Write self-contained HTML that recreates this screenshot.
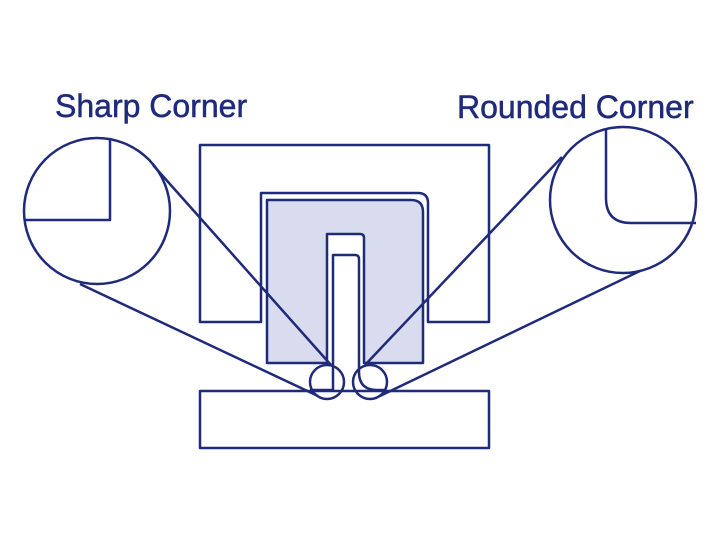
<!DOCTYPE html>
<html><head><meta charset="utf-8"><style>
html,body{margin:0;padding:0;background:#fff;}
svg{display:block}
text{font-family:"Liberation Sans",sans-serif;fill:#1f2a7a;font-size:32px;stroke:#1f2a7a;stroke-width:0.5px;}
</style></head><body>
<svg width="720" height="539" viewBox="0 0 720 539" xmlns="http://www.w3.org/2000/svg">
<g fill="none" stroke="#1f2a7a" stroke-width="2.5" stroke-linejoin="round">
<!-- outer frame -->
<path d="M200,145 H489 V322 H428 V203 Q428,193 418,193 H261 V322 H200 Z"/>
<!-- bottom rect -->
<rect x="200" y="391" width="289" height="57"/>
<!-- block -->
<path d="M267,363 V200 H411 Q423,200 423,212 V363 H364 V238 Q364,234 360,234 H327 V363 Z" fill="#d9dcee"/>
<!-- inner slot -->
<path d="M310,390 H333 V255 H355 Q359,255 359,259 V372 Q359,390 377,390 H385"/>
<!-- small circles -->
<circle cx="327" cy="382" r="17"/>
<circle cx="370" cy="382" r="17"/>
<!-- left magnifier -->
<circle cx="97" cy="211" r="73" fill="#fff"/>
<path d="M110,138 V220 H24"/>
<line x1="153" y1="165" x2="331" y2="365"/>
<line x1="80" y1="284" x2="318" y2="396"/>
<!-- right magnifier -->
<circle cx="623" cy="200" r="73" fill="#fff"/>
<path d="M606,128 V198 Q606,223 631,223 H696"/>
<line x1="562" y1="157" x2="365" y2="365"/>
<line x1="640" y1="271" x2="380" y2="396"/>
</g>
<text x="55" y="117">Sharp Corner</text>
<text x="457" y="118">Rounded Corner</text>
</svg>
</body></html>
